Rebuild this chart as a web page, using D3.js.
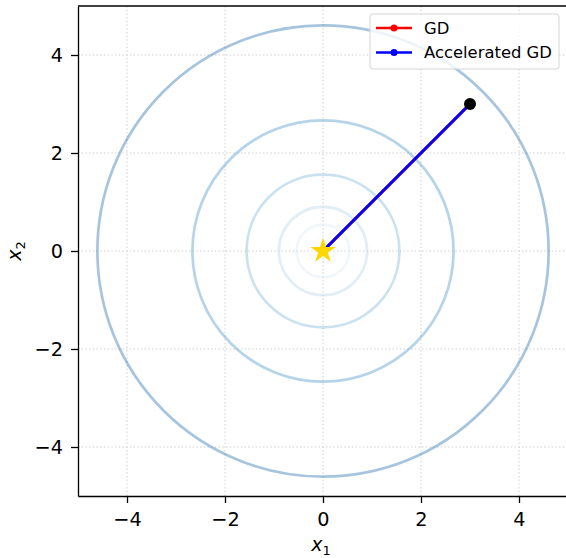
<!DOCTYPE html>
<html>
<head>
<meta charset="utf-8">
<script src="https://cdn.jsdelivr.net/npm/d3@7"></script>
<style>
  body { margin: 0; background: #fff; }
  svg { display: block; font-family: "DejaVu Sans", sans-serif; }
  .axis path, .axis line { stroke: #000; stroke-width: 1.3; }
  .axis text { font-family: "DejaVu Sans", sans-serif; font-size: 19.3px; fill: #000; }
  .grid line { stroke: #cfcfcf; stroke-width: 1; stroke-dasharray: 1.5, 2.2; }
</style>
</head>
<body>
<svg width="566" height="558"></svg>
<script>
// contour levels of f(x) = x1^2 + x2^2
let levels = [0.07, 0.29, 0.81, 2.43, 7.1, 21.2];

// optimizer paths
let gdX = [3, 0];
let gdY = [3, 0];
let accX = [3, 0];
let accY = [3, 0];

let startPoint = [3, 3];
let optimum = [0, 0];

let tickValues = [-4, -2, 0, 2, 4];
let legendNames = ["GD", "Accelerated GD"];
let legendColors = ["#ff0000", "#0000ff"];

/******************/

let margin = {top: 6, left: 78};
let width = 490;
let height = 490;

let xScale = d3.scaleLinear().domain([-5, 5]).range([0, width]);
let yScale = d3.scaleLinear().domain([-5, 5]).range([height, 0]);

let svg = d3.select("svg");
let parent = svg.append("g")
  .attr("transform", `translate(${margin.left}, ${margin.top})`);

// grid
parent.append("g").attr("class", "grid")
  .selectAll("line.gx").data(tickValues).enter().append("line")
  .attr("x1", d => xScale(d)).attr("x2", d => xScale(d))
  .attr("y1", 0).attr("y2", height);
parent.append("g").attr("class", "grid")
  .selectAll("line.gy").data(tickValues).enter().append("line")
  .attr("y1", d => yScale(d)).attr("y2", d => yScale(d))
  .attr("x1", 0).attr("x2", width);

// contour rings
let ringColor = d3.scaleSequential(d3.interpolateBlues).domain([0, levels.length - 1]);
parent.selectAll(".ring")
    .data(levels)
  .enter().append("circle")
    .attr("class", "ring")
    .attr("cx", xScale(0))
    .attr("cy", yScale(0))
    .attr("r", d => xScale(Math.sqrt(d)) - xScale(0))
    .attr("fill", "none")
    .attr("stroke", (d, i) => ringColor(i * 0.8))
    .attr("stroke-opacity", 0.38)
    .attr("stroke-width", 2.7);

// paths
let paths = [
  {name: "GD", xs: gdX, ys: gdY, color: legendColors[0]},
  {name: "Accelerated GD", xs: accX, ys: accY, color: legendColors[1]}
];
let line = d3.line().x(d => xScale(d[0])).y(d => yScale(d[1]));

paths.forEach(p => {
  let pts = p.xs.map((x, i) => [x, p.ys[i]]);
  parent.append("path")
    .datum(pts)
    .attr("d", line)
    .attr("fill", "none")
    .attr("stroke", p.color)
    .attr("stroke-width", 3);
  parent.selectAll(null)
      .data(pts)
    .enter().append("circle")
      .attr("cx", d => xScale(d[0]))
      .attr("cy", d => yScale(d[1]))
      .attr("r", 3.5)
      .attr("fill", p.color);
});

// start point
parent.append("circle")
  .attr("cx", xScale(startPoint[0]))
  .attr("cy", yScale(startPoint[1]))
  .attr("r", 6)
  .attr("fill", "#000");

// optimum star
parent.append("path")
  .attr("d", d3.symbol().type(d3.symbolStar).size(200))
  .attr("transform", `translate(${xScale(optimum[0])}, ${yScale(optimum[1])})`)
  .attr("fill", "#ffd700");

// axes
parent.append("g")
  .attr("class", "axis")
  .attr("transform", `translate(0, ${height})`)
  .call(d3.axisBottom(xScale).tickValues(tickValues).tickSize(7).tickPadding(9).tickSizeOuter(0));
parent.append("g")
  .attr("class", "axis")
  .call(d3.axisLeft(yScale).tickValues(tickValues).tickSize(7).tickPadding(8).tickSizeOuter(0));

// top and right spines
parent.append("line").attr("x1", 0).attr("x2", width).attr("y1", 0).attr("y2", 0)
  .attr("stroke", "#000").attr("stroke-width", 1.3);
parent.append("line").attr("x1", width).attr("x2", width).attr("y1", 0).attr("y2", height)
  .attr("stroke", "#000").attr("stroke-width", 1.3);

// axis labels
let xl = svg.append("text")
  .attr("x", margin.left + xScale(0) - 2)
  .attr("y", 551)
  .attr("text-anchor", "middle")
  .style("font-size", "19px");
xl.append("tspan").style("font-style", "italic").text("x");
xl.append("tspan").attr("dy", 4).style("font-size", "13px").text("1");

let yl = svg.append("text")
  .attr("transform", `translate(21, ${margin.top + yScale(0)}) rotate(-90)`)
  .attr("text-anchor", "middle")
  .style("font-size", "19px");
yl.append("tspan").style("font-style", "italic").text("x");
yl.append("tspan").attr("dy", 4).style("font-size", "13px").text("2");

// legend
let legend = svg.append("g").attr("transform", "translate(370, 14)");
legend.append("rect")
  .attr("width", 189).attr("height", 55)
  .attr("rx", 3)
  .attr("fill", "#fff").attr("fill-opacity", 0.8)
  .attr("stroke", "#d5d5d5");
legendNames.forEach((name, i) => {
  let y = 14 + i * 24.5;
  legend.append("line")
    .attr("x1", 6).attr("x2", 42).attr("y1", y).attr("y2", y)
    .attr("stroke", legendColors[i]).attr("stroke-width", 2.5);
  legend.append("circle")
    .attr("cx", 24).attr("cy", y).attr("r", 3.5)
    .attr("fill", legendColors[i]);
  legend.append("text")
    .attr("x", 54).attr("y", y).attr("dy", "0.35em")
    .style("font-size", "16.4px")
    .text(name);
});
</script>
</body>
</html>
